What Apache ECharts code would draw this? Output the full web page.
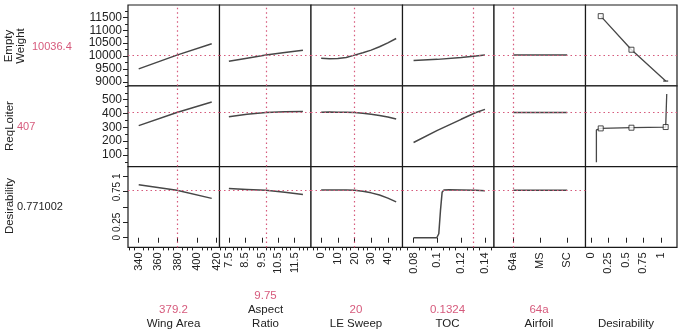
<!DOCTYPE html>
<html><head><meta charset="utf-8">
<script src="https://cdn.jsdelivr.net/npm/echarts@6/dist/echarts.min.js"></script>
<style>html,body{margin:0;padding:0;background:#fff}#c{width:678px;height:332px}</style>
</head><body><div id="c"></div>
<script>
// ---------- labels ----------
const responseNames = [['Empty', 'Weight'], ['ReqLoiter'], ['Desirability']];
const responseCurrentText = ['10036.4', '407', '0.771002'];
const responseCurrent = [10036.4, 407, 0.771002];
const factorNames = [['Wing Area'], ['Aspect', 'Ratio'], ['LE Sweep'], ['TOC'], ['Airfoil'], ['Desirability']];
const factorCurrentText = ['379.2', '9.75', '20', '0.1324', '64a', ''];
const factorCurrent = [379.2, 9.75, 20, 0.1324, 0];
const airfoilCategories = ['64a', 'MS', 'SC'];

// ---------- tick values ----------
const ewTicks = [9000, 9500, 10000, 10500, 11000, 11500];
const rlTicks = [100, 200, 300, 400, 500];
const desTicks = [0, 0.25, 0.5, 0.75, 1];
const wingTicks = [340, 360, 380, 400, 420];
const aspectTicks = [7.5, 8.5, 9.5, 10.5, 11.5];
const sweepTicks = [0, 10, 20, 30, 40];
const tocTicks = [0.08, 0.1, 0.12, 0.14];
const airfoilTicks = [0, 1, 2];
const desirabilityTicks = [0, 0.25, 0.5, 0.75, 1];

// ---------- profile data ----------
const wingX = [340, 379.2, 415];
const wingEW = [9500, 10036, 10480];
const wingRL = [312, 407, 483];
const wingD = [0.86, 0.771, 0.64];

const aspectX = [7.5, 8.6, 9.75, 10.9, 12];
const aspectEW = [9795, 9915, 10036, 10135, 10228];
const aspectRL = [377, 395, 407, 412, 414];
const aspectD = [0.80, 0.786, 0.771, 0.738, 0.705];

const sweepX = [0, 5, 10, 15, 20, 25, 30, 35, 40, 45];
const sweepEW = [9910, 9895, 9900, 9945, 10036, 10130, 10230, 10360, 10510, 10680];
const sweepRL = [410, 411, 410, 409, 407, 402, 395, 386, 374, 360];
const sweepD = [0.775, 0.777, 0.778, 0.776, 0.771, 0.755, 0.73, 0.695, 0.645, 0.584];

const tocX = [0.08, 0.1, 0.12, 0.1324, 0.14];
const tocEW = [9830, 9870, 9945, 10005, 10040];
const tocRL = [190, 278, 358, 407, 430];
const tocDX = [0.08, 0.0995, 0.1005, 0.1012, 0.1026, 0.104, 0.1054, 0.11, 0.12, 0.1324, 0.14];
const tocD = [0, 0, 0.02, 0.065, 0.44, 0.74, 0.775, 0.78, 0.776, 0.771, 0.765];

const airfoilX = [0, 1, 2];
const airfoilEW = [10036, 10036, 10036];
const airfoilRL = [407, 407, 407];
const airfoilD = [0.771, 0.771, 0.771];

// desirability functions (x = desirability, y = response)
const desEWX = [0.14, 0.58, 1.07];
const desEWY = [11550, 10245, 9027];
const desRLX = [0.078, 0.078, 0.14, 0.58, 1.07, 1.085, 1.085];
const desRLY = [46, 281, 292, 297, 302, 302, 541];
const desRLMarks = [2, 3, 4];

// ---------- layout / style ----------
const FONT = '"Liberation Sans", Arial, sans-serif';
const PINK = '#d65a7c';
const INK = '#222';
const CURVE = '#474747';
const L0 = 128, T0 = 5, PW = 91.5, PH = 80.8;

const rowAxes = [
  { min: 8843, max: 11983, ticks: ewTicks, minor: 250, rotate: 0, fontSize: 12, fmt: v => String(v) },
  { min: 15, max: 601, ticks: rlTicks, minor: 50, rotate: 0, fontSize: 12, fmt: v => String(v) },
  { min: -0.157, max: 1.157, ticks: desTicks, minor: 0, rotate: 90, fontSize: 10, fmt: v => (v === 0.5 ? '' : String(v)) }
];
const colAxes = [
  { min: 329, max: 423, ticks: wingTicks, minor: 5, fmt: v => String(v) },
  { min: 6.93, max: 12.49, ticks: aspectTicks, minor: 0.25, fmt: v => String(v) },
  { min: -6.1, max: 48.8, ticks: sweepTicks, minor: 2.5, fmt: v => String(v) },
  { min: 0.0707, max: 0.1476, ticks: tocTicks, minor: 0.005, fmt: v => String(v) },
  { min: -0.72, max: 2.68, ticks: airfoilTicks, minor: 0, fmt: v => airfoilCategories[v] },
  { min: -0.078, max: 1.232, ticks: desirabilityTicks, minor: 0, fmt: v => String(v) }
];
const colData = [
  { x: [wingX, wingX, wingX], y: [wingEW, wingRL, wingD] },
  { x: [aspectX, aspectX, aspectX], y: [aspectEW, aspectRL, aspectD] },
  { x: [sweepX, sweepX, sweepX], y: [sweepEW, sweepRL, sweepD] },
  { x: [tocX, tocX, tocDX], y: [tocEW, tocRL, tocD] },
  { x: [airfoilX, airfoilX, airfoilX], y: [airfoilEW, airfoilRL, airfoilD] }
];

function minorValues(min, max, step, majors) {
  const out = [];
  if (!step) return out;
  for (let k = Math.ceil(min / step - 1e-9); k * step <= max + 1e-12; k++) {
    const v = +(k * step).toFixed(6);
    if (!majors.some(m => Math.abs(m - v) < step / 10)) out.push(v);
  }
  return out;
}
const zip = (a, b) => a.map((v, i) => [v, b[i]]);

const grid = [], xAxis = [], yAxis = [], series = [];
for (let r = 0; r < 3; r++) {
  for (let c = 0; c < 6; c++) {
    const g = r * 6 + c;
    grid.push({ left: L0 + c * PW, top: T0 + r * PH, width: PW, height: PH,
      show: true, borderColor: '#1a1a1a', borderWidth: 1.2, backgroundColor: '#fff', containLabel: false });
    const ca = colAxes[c], ra = rowAxes[r];
    const bottom = r === 2;
    xAxis.push({ gridIndex: g, type: 'value', position: 'bottom', min: ca.min, max: ca.max, show: bottom,
      axisLine: { show: false }, splitLine: { show: false },
      axisTick: { show: true, inside: false, length: 5, customValues: ca.ticks, lineStyle: { color: INK, width: 1 } },
      axisLabel: { show: true, rotate: 90, margin: 5, customValues: ca.ticks, formatter: ca.fmt,
        fontSize: 11, color: INK, fontFamily: FONT } });
    const left = c === 0;
    yAxis.push({ gridIndex: g, type: 'value', position: 'left', min: ra.min, max: ra.max, show: left,
      axisLine: { show: false }, splitLine: { show: false },
      axisTick: { show: true, inside: false, length: 5, customValues: ra.ticks, lineStyle: { color: INK, width: 1 } },
      axisLabel: { show: true, rotate: ra.rotate, margin: 6, customValues: ra.ticks, formatter: ra.fmt,
        fontSize: ra.fontSize, color: INK, fontFamily: FONT } });
  }
}
// minor ticks
for (let c = 0; c < 6; c++) {
  const ca = colAxes[c];
  const mv = minorValues(ca.min, ca.max, ca.minor, ca.ticks);
  if (!mv.length) continue;
  xAxis.push({ gridIndex: 12 + c, type: 'value', position: 'bottom', offset: 0, min: ca.min, max: ca.max,
    axisLine: { show: false }, splitLine: { show: false }, axisLabel: { show: false },
    axisTick: { show: true, inside: false, length: 3, customValues: mv, lineStyle: { color: INK, width: 1 } } });
}
for (let r = 0; r < 3; r++) {
  const ra = rowAxes[r];
  const mv = minorValues(ra.min, ra.max, ra.minor, ra.ticks);
  if (!mv.length) continue;
  yAxis.push({ gridIndex: r * 6, type: 'value', position: 'left', offset: 0, min: ra.min, max: ra.max,
    axisLine: { show: false }, splitLine: { show: false }, axisLabel: { show: false },
    axisTick: { show: true, inside: false, length: 3, customValues: mv, lineStyle: { color: INK, width: 1 } } });
}

const crossStyle = { color: PINK, type: [1.5, 3], width: 1.2 };
function mk(lines) {
  return { silent: true, symbol: 'none', label: { show: false }, lineStyle: crossStyle, animation: false, data: lines };
}
for (let r = 0; r < 3; r++) {
  for (let c = 0; c < 5; c++) {
    const g = r * 6 + c;
    series.push({ type: 'line', xAxisIndex: g, yAxisIndex: g, showSymbol: false, smooth: false,
      data: zip(colData[c].x[r], colData[c].y[r]),
      lineStyle: { color: CURVE, width: 1.5 }, z: 3,
      markLine: mk([{ xAxis: factorCurrent[c] }, { yAxis: responseCurrent[r] }]) });
  }
}
// desirability column
series.push({ type: 'line', xAxisIndex: 5, yAxisIndex: 5, showSymbol: false, data: zip(desEWX, desEWY),
  lineStyle: { color: CURVE, width: 1.3 }, z: 3, markLine: mk([{ yAxis: responseCurrent[0] }]) });
series.push({ type: 'scatter', xAxisIndex: 5, yAxisIndex: 5, z: 4,
  data: zip(desEWX, desEWY).map((p, i) => i === 2 ? { value: p, symbolSize: [5, 1.5], itemStyle: { color: '#333', borderWidth: 0 } } : p),
  symbol: 'rect', symbolSize: 5, itemStyle: { color: '#fff', borderColor: '#222', borderWidth: 1 } });
series.push({ type: 'line', xAxisIndex: 11, yAxisIndex: 11, showSymbol: false, data: zip(desRLX, desRLY),
  lineStyle: { color: CURVE, width: 1.3 }, z: 3, markLine: mk([{ yAxis: responseCurrent[1] }]) });
series.push({ type: 'scatter', xAxisIndex: 11, yAxisIndex: 11, z: 4,
  data: desRLMarks.map(i => [desRLX[i], desRLY[i]]),
  symbol: 'rect', symbolSize: 5, itemStyle: { color: '#fff', borderColor: '#222', borderWidth: 1 } });

// ---------- text ----------
const graphic = [];
function txt(x, y, text, opt = {}) {
  graphic.push({ type: 'text', x, y, rotation: opt.rot ? Math.PI / 2 : 0, silent: true,
    style: { text, font: (opt.size || 11) + 'px ' + FONT, fill: opt.color || INK,
      textAlign: opt.align || 'center', textVerticalAlign: 'middle' } });
}
const rowCenters = [46, 126, 206];
const leftValueX = [32, 17, 17];
const rowTitleX = [[9, 21], [10], [10]];
for (let r = 0; r < 3; r++) {
  responseNames[r].forEach((n, i) => txt(rowTitleX[r][i], rowCenters[r], n, { rot: true, size: 11.5 }));
  txt(leftValueX[r], rowCenters[r] + 1, responseCurrentText[r], { align: 'left', color: r < 2 ? PINK : INK, size: 11 });
}
const colCenters = [173.5, 265.5, 356, 447.5, 539, 626];
for (let c = 0; c < 6; c++) {
  const names = factorNames[c];
  const n = names.length;
  names.forEach((nm, i) => txt(colCenters[c], 323.5 - (n - 1 - i) * 14, nm, { size: 11.5 }));
  if (factorCurrentText[c]) txt(colCenters[c], 323.5 - n * 14, factorCurrentText[c], { color: PINK, size: 11.5 });
}

const chart = echarts.init(document.getElementById('c'), null, { renderer: 'canvas' });
chart.setOption({ animation: false, backgroundColor: '#fff', grid, xAxis, yAxis, series, graphic });
</script>
</body></html>
